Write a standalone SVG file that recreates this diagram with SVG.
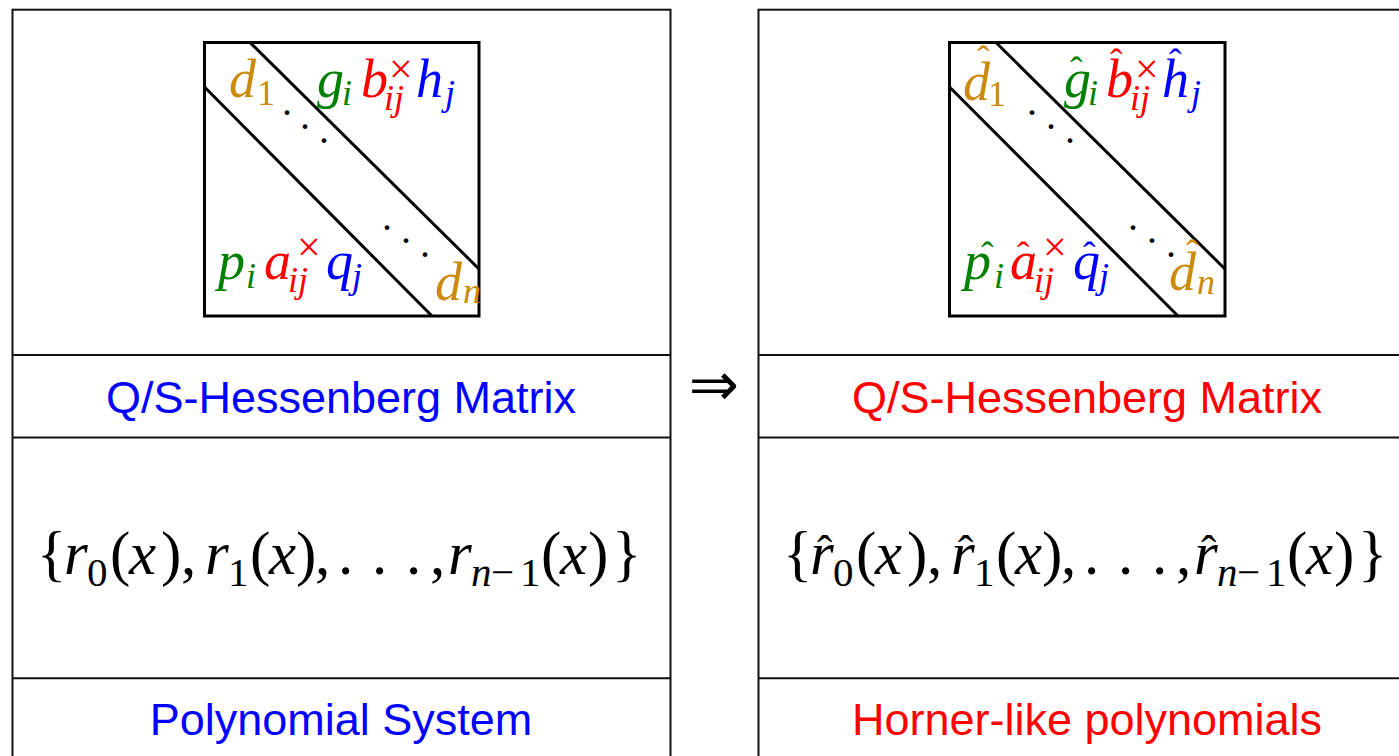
<svg xmlns="http://www.w3.org/2000/svg" width="1399" height="756" viewBox="0 0 1399 756">
<style>
.frame{fill:none;stroke:#111;stroke-width:2}
.mat{fill:none;stroke:#000;stroke-width:3}
.diag{stroke:#000;stroke-width:3}
.m{font-family:"Liberation Serif","Times New Roman",serif;font-style:italic;font-size:54px}
.s{font-family:"Liberation Serif","Times New Roman",serif;font-style:italic;font-size:36px}
.su{font-family:"Liberation Serif","Times New Roman",serif;font-size:36px}
.x{font-family:"Liberation Serif","Times New Roman",serif;font-size:42px}
.hat{font-family:"Liberation Serif","Times New Roman",serif;font-size:38px}
.dot{font-family:"Liberation Serif","Times New Roman",serif;font-size:40px;fill:#000}
.or{fill:#cc8a0a}.gr{fill:#008000}.rd{fill:#ff0000}.bl{fill:#0000ff}
.lab{font-family:"Liberation Sans",Arial,sans-serif;font-size:45px;text-anchor:middle}
.f{font-family:"Liberation Serif","Times New Roman",serif;font-size:61px;fill:#000}
.fi{font-style:italic}
.fs{font-size:41px}
.fh{font-family:"Liberation Serif","Times New Roman",serif;font-size:46px;fill:#000}
</style>

<g id="left-panel">
  <rect class="frame" x="12.5" y="9.7" width="658" height="760"/>
  <line class="frame" x1="12.5" y1="355" x2="670.5" y2="355"/>
  <line class="frame" x1="12.5" y1="437.5" x2="670.5" y2="437.5"/>
  <line class="frame" x1="12.5" y1="678.3" x2="670.5" y2="678.3"/>
</g>

<g id="right-panel">
  <rect class="frame" x="758.5" y="9.7" width="658" height="760"/>
  <line class="frame" x1="758.5" y1="355" x2="1416.5" y2="355"/>
  <line class="frame" x1="758.5" y1="437.5" x2="1416.5" y2="437.5"/>
  <line class="frame" x1="758.5" y1="678.3" x2="1416.5" y2="678.3"/>
</g>

<g id="left-matrix">
  <rect class="mat" x="204.5" y="42.5" width="274.5" height="273.5"/>
  <line class="diag" x1="250" y1="42.5" x2="479" y2="269"/>
  <line class="diag" x1="204.5" y1="87" x2="432" y2="316"/>
  <text class="m or" x="229" y="97">d</text><text class="su or" x="257" y="105">1</text>
  <text class="m gr" x="317" y="97">g</text><text class="s gr" x="342" y="105">i</text>
  <text class="m rd" x="361" y="97">b</text><text class="x rd" x="389" y="83">×</text><text class="s rd" x="384" y="110">ij</text>
  <text class="m bl" x="416" y="97">h</text><text class="s bl" x="445" y="105">j</text>
  <text class="dot" x="282" y="115">.</text><text class="dot" x="300" y="129">.</text><text class="dot" x="319" y="143">.</text>
  <text class="dot" x="382" y="230">.</text><text class="dot" x="401" y="243">.</text><text class="dot" x="420" y="257">.</text>
  <text class="m gr" x="218" y="279">p</text><text class="s gr" x="246" y="288">i</text>
  <text class="m rd" x="264" y="279">a</text><text class="x rd" x="297" y="261">×</text><text class="s rd" x="288" y="292">ij</text>
  <text class="m bl" x="326" y="279">q</text><text class="s bl" x="352" y="288">j</text>
  <text class="m or" x="435" y="300">d</text><text class="s or" x="463" y="303">n</text>
</g>

<g id="right-matrix">
  <rect class="mat" x="949.5" y="42.5" width="275.5" height="273.5"/>
  <line class="diag" x1="996" y1="42.5" x2="1225" y2="269"/>
  <line class="diag" x1="949.5" y1="87" x2="1178" y2="316"/>
  <text class="m or" x="963" y="100">d</text><text class="su or" x="988" y="106">1</text><text class="hat or" x="977" y="72">ˆ</text>
  <text class="m gr" x="1064" y="97">g</text><text class="s gr" x="1088" y="105">i</text><text class="hat gr" x="1070" y="83">ˆ</text>
  <text class="m rd" x="1106" y="97">b</text><text class="x rd" x="1135" y="83">×</text><text class="s rd" x="1130" y="110">ij</text><text class="hat rd" x="1110" y="75">ˆ</text>
  <text class="m bl" x="1162" y="97">h</text><text class="s bl" x="1191" y="105">j</text><text class="hat bl" x="1169" y="75">ˆ</text>
  <text class="dot" x="1027" y="115">.</text><text class="dot" x="1046" y="129">.</text><text class="dot" x="1065" y="143">.</text>
  <text class="dot" x="1128" y="230">.</text><text class="dot" x="1147" y="243">.</text><text class="dot" x="1166" y="257">.</text>
  <text class="m gr" x="964" y="279">p</text><text class="s gr" x="994" y="288">i</text><text class="hat gr" x="981" y="268">ˆ</text>
  <text class="m rd" x="1010" y="279">a</text><text class="x rd" x="1043" y="261">×</text><text class="s rd" x="1034" y="292">ij</text><text class="hat rd" x="1017" y="268">ˆ</text>
  <text class="m bl" x="1073" y="279">q</text><text class="s bl" x="1099" y="288">j</text><text class="hat bl" x="1083" y="268">ˆ</text>
  <text class="m or" x="1169" y="290">d</text><text class="s or" x="1197" y="294">n</text><text class="hat or" x="1186" y="266">ˆ</text>
</g>

<g id="left-label">
  <text class="lab bl" x="341" y="413">Q/S-Hessenberg Matrix</text>
</g>
<g id="right-label">
  <text class="lab rd" x="1087" y="413">Q/S-Hessenberg Matrix</text>
</g>

<g id="left-formula">
  <text class="f" y="574"><tspan x="37">{</tspan><tspan class="fi" x="64">r</tspan><tspan class="fs" x="87" y="586">0</tspan><tspan x="110" y="574">(</tspan><tspan class="fi" x="129">x</tspan><tspan x="161">)</tspan><tspan x="181">,</tspan><tspan class="fi" x="205">r</tspan><tspan class="fs" x="228" y="586">1</tspan><tspan x="250" y="574">(</tspan><tspan class="fi" x="269">x</tspan><tspan x="296">)</tspan><tspan x="315">,</tspan><tspan x="338">.</tspan><tspan x="372">.</tspan><tspan x="406">.</tspan><tspan x="430">,</tspan><tspan class="fi" x="448">r</tspan><tspan class="fs fi" x="471" y="586">n</tspan><tspan class="fs" x="491">−</tspan><tspan class="fs" x="520">1</tspan><tspan x="541" y="574">(</tspan><tspan class="fi" x="560">x</tspan><tspan x="588">)</tspan><tspan x="612">}</tspan></text>
</g>

<g id="right-formula" transform="translate(746,0)">
  <text class="f" y="574"><tspan x="37">{</tspan><tspan class="fi" x="64">r</tspan><tspan class="fs" x="87" y="586">0</tspan><tspan x="110" y="574">(</tspan><tspan class="fi" x="129">x</tspan><tspan x="161">)</tspan><tspan x="181">,</tspan><tspan class="fi" x="205">r</tspan><tspan class="fs" x="228" y="586">1</tspan><tspan x="250" y="574">(</tspan><tspan class="fi" x="269">x</tspan><tspan x="296">)</tspan><tspan x="315">,</tspan><tspan x="338">.</tspan><tspan x="372">.</tspan><tspan x="406">.</tspan><tspan x="430">,</tspan><tspan class="fi" x="448">r</tspan><tspan class="fs fi" x="471" y="586">n</tspan><tspan class="fs" x="491">−</tspan><tspan class="fs" x="520">1</tspan><tspan x="541" y="574">(</tspan><tspan class="fi" x="560">x</tspan><tspan x="588">)</tspan><tspan x="612">}</tspan></text>
  <text class="fh" x="71" y="568">ˆ</text>
  <text class="fh" x="212" y="568">ˆ</text>
  <text class="fh" x="455" y="568">ˆ</text>
</g>

<g id="left-bottom-label">
  <text class="lab bl" x="341" y="735">Polynomial System</text>
</g>
<g id="right-bottom-label">
  <text class="lab rd" x="1087" y="735">Horner-like polynomials</text>
</g>

<g id="connectors">
  <text x="714" y="405" text-anchor="middle" style="font-family:'DejaVu Sans',sans-serif;font-size:60px;fill:#000">⇒</text>
</g>
</svg>
